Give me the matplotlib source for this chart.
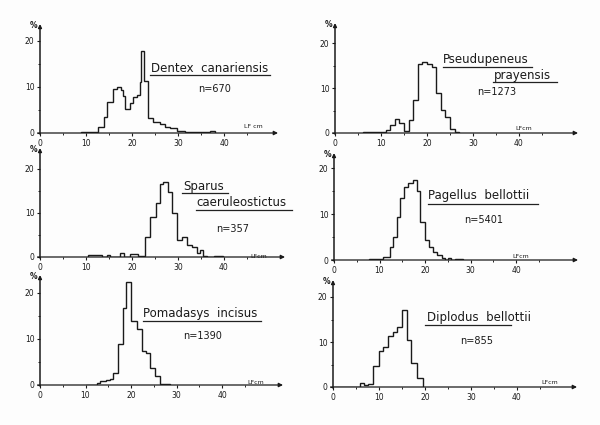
import matplotlib
matplotlib.use("Agg")
import matplotlib.pyplot as plt
from matplotlib.lines import Line2D

# length classes (cm, bin edges) and frequency (%)
dentex_edges = [9.0, 12.7, 13.9, 14.5, 15.9, 16.7, 17.5, 18.0, 18.5, 19.6, 20.3, 21.0,
                21.7, 22.0, 22.7, 23.5, 24.6, 26.1, 27.2, 28.3, 29.7, 31.5, 33.5, 37.0, 38.0]
dentex_pct = [0.2, 1.2, 3.5, 6.8, 9.5, 9.9, 9.3, 8.0, 5.2, 6.5, 7.9, 8.2,
              11.0, 17.8, 11.2, 3.2, 2.5, 2.0, 1.4, 1.0, 0.5, 0.3, 0.2, 0.4]

pseud_edges = [6, 10, 11, 12, 13, 14, 15, 16, 17, 18, 19, 20, 21, 22, 23, 24, 25, 26, 27]
pseud_pct = [0.2, 0.3, 0.7, 1.8, 3.1, 2.2, 0.5, 3.0, 7.3, 15.3, 15.8, 15.3, 14.7,
             8.9, 5.1, 3.6, 1.0, 0.3]

sparus_edges = [10.5, 13.5, 14.5, 15.3, 17.3, 18.2, 19.6, 21.3, 22.8, 23.9, 25.2, 26.1,
                26.8, 27.9, 28.6, 29.7, 30.8, 31.9, 33.0, 34.1, 34.8, 35.5, 36.2, 37.8, 39.8]
sparus_pct = [0.4, 0.1, 0.4, 0.1, 0.8, 0.1, 0.6, 0.3, 4.6, 9.2, 12.2, 16.7,
              17.0, 14.8, 9.9, 3.9, 4.6, 2.7, 2.3, 0.9, 1.6, 0.2, 0.0, 0.3]

pagel_edges = [7.8, 10.8, 12.3, 13.0, 13.8, 14.5, 15.4, 16.3, 17.3, 18.3, 19.0, 20.0,
               20.9, 21.8, 22.7, 23.7, 24.4, 25.0, 25.8, 26.5, 28.4]
pagel_pct = [0.3, 0.7, 2.9, 5.1, 9.4, 13.4, 15.9, 16.7, 17.5, 14.9, 8.3, 4.3,
             2.9, 1.8, 1.1, 0.4, 0.1, 0.5, 0.1, 0.3]

pomad_edges = [10.0, 12.5, 13.2, 14.5, 15.4, 16.1, 17.2, 18.2, 19.0, 20.1, 21.3, 22.4,
               23.4, 24.2, 25.3, 26.4, 28.5]
pomad_pct = [0.1, 0.4, 0.9, 1.1, 1.4, 2.6, 9.0, 16.8, 22.4, 14.0, 12.2, 7.5,
             7.0, 3.6, 2.0, 0.2]

diplo_edges = [0, 5.9, 6.7, 7.7, 8.8, 9.9, 10.9, 12.0, 13.1, 14.0, 14.9, 16.0, 17.0, 18.2, 19.6]
diplo_pct = [0.1, 0.9, 0.5, 0.7, 4.7, 7.9, 8.8, 11.3, 12.3, 13.4, 17.1, 10.4, 5.4, 2.0]

x_ticks = [0, 10, 20, 30, 40]
y_ticks = [0, 10, 20]

W, H = 600, 425
fig = plt.figure(figsize=(6, 4.25), dpi=100)
fig.patch.set_facecolor("#fdfdfd")


def ftext(x, y, s, **kw):
    fig.text(x / W, 1 - y / H, s, **kw)


def fline(x0, x1, y):
    fig.add_artist(Line2D([x0 / W, x1 / W], [1 - y / H, 1 - y / H],
                          color="#222222", lw=0.9))


# panel frames in pixels: origin x, origin y, arrow end x, arrow top y, px/cm, px/%
panels = [
    (dentex_edges, dentex_pct, 40, 133, 278, 24, 4.6, 4.6),
    (pseud_edges, pseud_pct, 335, 133, 578, 23, 4.6, 4.5),
    (sparus_edges, sparus_pct, 40, 257, 285, 148, 4.6, 4.4),
    (pagel_edges, pagel_pct, 334, 260, 578, 153, 4.55, 4.6),
    (pomad_edges, pomad_pct, 40, 385, 283, 275, 4.55, 4.6),
    (diplo_edges, diplo_pct, 333, 387, 577, 280, 4.6, 4.5),
]

for edges, pct, ox, oy, xe, yt, sx, sy in panels:
    ax = fig.add_axes([ox / W, 1 - oy / H, (xe - ox) / W, (oy - yt) / H])
    ax.set_xlim(0, (xe - ox) / sx)
    ax.set_ylim(0, (oy - yt) / sy)
    ax.patch.set_alpha(0)
    for s in ax.spines.values():
        s.set_visible(False)
    ax.stairs(pct, edges, baseline=0, color="#1a1a1a", lw=1.0)
    ax.annotate("", xy=(1, 0), xytext=(-0.01, 0), xycoords="axes fraction",
                arrowprops=dict(arrowstyle="-|>", color="#1a1a1a", lw=0.9,
                                mutation_scale=6, shrinkA=0, shrinkB=0))
    ax.annotate("", xy=(0, 1), xytext=(0, -0.01), xycoords="axes fraction",
                arrowprops=dict(arrowstyle="-|>", color="#1a1a1a", lw=1.1,
                                mutation_scale=5, shrinkA=0, shrinkB=0))
    ax.set_xticks(x_ticks)
    ax.set_xticklabels([str(t) for t in x_ticks])
    ax.set_xticks([5, 15, 25, 35, 45], minor=True)
    ax.set_yticks(y_ticks)
    ax.set_yticklabels([str(t) for t in y_ticks])
    ax.set_yticks([5, 15], minor=True)
    ax.tick_params(axis="both", which="major", direction="out", length=2.5,
                   width=0.8, labelsize=5.5, pad=1.5, colors="#1a1a1a")
    ax.tick_params(axis="both", which="minor", direction="out", length=1.5,
                   width=0.6)
    ax.text(-0.5, ax.get_ylim()[1] - 0.4, "%", ha="right", va="center",
            fontsize=5.5, fontweight="bold", color="#1a1a1a")

# species names, sample sizes and axis units
name_kw = dict(fontsize=8.5, color="#1a1a1a", ha="left", va="center")
n_kw = dict(fontsize=7, color="#1a1a1a", ha="left", va="center")
unit_kw = dict(fontsize=4.5, color="#1a1a1a", ha="left", va="center")

ftext(151, 68, "Dentex  canariensis", **name_kw)
fline(150, 270, 75)
ftext(198, 89, "n=670", **n_kw)
ftext(244, 127, "LF cm", **unit_kw)

ftext(443, 60, "Pseudupeneus", **name_kw)
fline(443, 532, 67)
ftext(494, 76, "prayensis", **name_kw)
fline(493, 557, 82)
ftext(477, 92, "n=1273", **n_kw)
ftext(515, 128, "LFcm", **unit_kw)

ftext(183, 187, "Sparus", **name_kw)
fline(182, 228, 193)
ftext(196, 203, "caeruleostictus", **name_kw)
fline(196, 292, 210)
ftext(216, 229, "n=357", **n_kw)
ftext(250, 256, "LFcm", **unit_kw)

ftext(428, 196, "Pagellus  bellottii", **name_kw)
fline(428, 538, 204)
ftext(464, 220, "n=5401", **n_kw)
ftext(512, 256, "LFcm", **unit_kw)

ftext(143, 313, "Pomadasys  incisus", **name_kw)
fline(143, 261, 321)
ftext(183, 336, "n=1390", **n_kw)
ftext(247, 382, "LFcm", **unit_kw)

ftext(427, 318, "Diplodus  bellottii", **name_kw)
fline(425, 511, 325)
ftext(460, 341, "n=855", **n_kw)
ftext(541, 383, "LFcm", **unit_kw)

fig.savefig("out.png", dpi=100, facecolor=fig.get_facecolor())
